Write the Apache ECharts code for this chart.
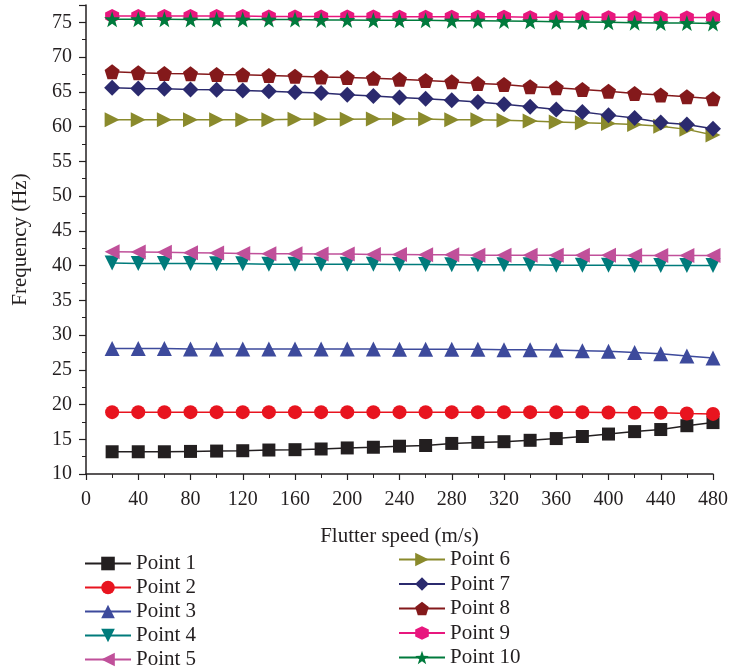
<!DOCTYPE html>
<html>
<head>
<meta charset="utf-8">
<script src="https://cdn.jsdelivr.net/npm/echarts@6/dist/echarts.min.js"></script>
<style>
  html, body { margin: 0; padding: 0; background: #fff; }
  #chart { width: 731px; height: 671px; }
</style>
</head>
<body>
<div id="chart"></div>
<script>
// flutter speed (m/s)
var speeds = [20, 40, 60, 80, 100, 120, 140, 160, 180, 200, 220, 240,
  260, 280, 300, 320, 340, 360, 380, 400, 420, 440, 460, 480];

var names = ['Point 1', 'Point 2', 'Point 3', 'Point 4', 'Point 5',
  'Point 6', 'Point 7', 'Point 8', 'Point 9', 'Point 10'];

// frequency (Hz) per point
var p1 = [13.2, 13.2, 13.2, 13.25, 13.3, 13.35, 13.45, 13.5, 13.6, 13.75, 13.85, 14.0,
  14.1, 14.4, 14.55, 14.65, 14.85, 15.1, 15.4, 15.75, 16.1, 16.4, 16.95, 17.4];
var p2 = [18.9, 18.9, 18.9, 18.9, 18.9, 18.9, 18.9, 18.9, 18.9, 18.9, 18.9, 18.9,
  18.9, 18.9, 18.9, 18.9, 18.9, 18.9, 18.9, 18.85, 18.8, 18.8, 18.7, 18.65];
var p3 = [28.05, 28.05, 28.05, 28.0, 28.0, 28.0, 28.0, 28.0, 28.0, 28.0, 28.0, 27.95,
  27.95, 27.95, 27.95, 27.9, 27.9, 27.85, 27.75, 27.65, 27.5, 27.3, 27.0, 26.7];
var p4 = [40.35, 40.3, 40.3, 40.3, 40.25, 40.25, 40.2, 40.2, 40.2, 40.2, 40.2, 40.15,
  40.15, 40.1, 40.1, 40.1, 40.1, 40.05, 40.05, 40.05, 40.0, 40.0, 40.0, 40.0];
var p5 = [42.0, 41.95, 41.9, 41.85, 41.8, 41.75, 41.7, 41.7, 41.65, 41.65, 41.6, 41.6,
  41.55, 41.55, 41.5, 41.5, 41.5, 41.5, 41.5, 41.5, 41.45, 41.45, 41.45, 41.45];
var p6 = [61.0, 61.0, 61.0, 61.0, 61.0, 61.0, 61.0, 61.05, 61.05, 61.05, 61.1, 61.1,
  61.1, 61.0, 61.0, 60.9, 60.8, 60.65, 60.55, 60.45, 60.3, 60.05, 59.6, 58.8];
var p7 = [65.6, 65.5, 65.45, 65.35, 65.3, 65.2, 65.1, 64.95, 64.85, 64.6, 64.4, 64.2,
  64.0, 63.8, 63.55, 63.2, 62.85, 62.45, 62.1, 61.65, 61.25, 60.6, 60.3, 59.7];
var p8 = [67.9, 67.75, 67.65, 67.6, 67.5, 67.45, 67.35, 67.25, 67.15, 67.05, 66.95, 66.8,
  66.65, 66.45, 66.2, 66.05, 65.75, 65.6, 65.35, 65.1, 64.75, 64.55, 64.3, 64.0];
var p9 = [75.9, 75.9, 75.9, 75.9, 75.9, 75.9, 75.85, 75.85, 75.85, 75.85, 75.85, 75.8,
  75.8, 75.8, 75.8, 75.8, 75.75, 75.75, 75.75, 75.75, 75.75, 75.7, 75.7, 75.7];
var p10 = [75.45, 75.45, 75.45, 75.4, 75.4, 75.4, 75.4, 75.4, 75.35, 75.35, 75.3, 75.3,
  75.3, 75.25, 75.25, 75.2, 75.15, 75.1, 75.05, 75.0, 74.95, 74.9, 74.9, 74.85];

var values = [p1, p2, p3, p4, p5, p6, p7, p8, p9, p10];
var xTicks = [0, 40, 80, 120, 160, 200, 240, 280, 320, 360, 400, 440, 480];

var colors = ['#231f20', '#e8141f', '#3d4a9c', '#007b7b', '#c0509a',
  '#8a8a2c', '#2b2a6e', '#84191b', '#e8177e', '#007a3c'];

var pentagon = 'path://M0,-10 L9.51,-3.09 L5.88,8.09 L-5.88,8.09 L-9.51,-3.09 Z';
var hexagon = 'path://M0,-10 L8.66,-5 L8.66,5 L0,10 L-8.66,5 L-8.66,-5 Z';
var star = 'path://M0,-10 L2.35,-3.24 L9.51,-3.09 L3.8,1.24 L5.88,8.09 L0,4 L-5.88,8.09 L-3.8,1.24 L-9.51,-3.09 L-2.35,-3.24 Z';
var symbols = ['rect', 'circle', 'triangle', 'triangle', 'triangle',
  'triangle', 'diamond', pentagon, hexagon, star];
var rotates = [0, 0, 0, 180, 90, -90, 0, 0, 0, 0];
var sizes = [13, 14, 15, 15, 15, 15, 16, 15, 14, 16];

var font = '"Liberation Serif", "DejaVu Serif", serif';
var ink = '#231f20';

var chart = echarts.init(document.getElementById('chart'));

var series = names.map(function (n, i) {
  return {
    name: n,
    type: 'line',
    data: speeds.map(function (s, j) { return [s, values[i][j]]; }),
    symbol: symbols[i],
    symbolSize: sizes[i],
    symbolRotate: rotates[i],
    showAllSymbol: true,
    color: colors[i],
    lineStyle: { width: 1.5, color: colors[i] },
    itemStyle: { color: colors[i] },
    z: 2 + i
  };
});

var legendText = { fontFamily: font, fontSize: 21, color: ink };

chart.setOption({
  animation: false,
  grid: { left: 86, right: 15, top: 5, bottom: 197 },
  legend: [{
    data: names.slice(0, 5),
    orient: 'vertical',
    left: 84, top: 553, padding: 0, height: 118,
    itemWidth: 46, itemHeight: 17, itemGap: 3,
    textStyle: legendText
  }, {
    data: names.slice(5),
    orient: 'vertical',
    left: 398, top: 549, padding: 0, height: 122,
    itemWidth: 46, itemHeight: 17, itemGap: 3.5,
    textStyle: legendText
  }],
  xAxis: {
    type: 'value',
    min: 0, max: 480, interval: 40,
    name: 'Flutter speed (m/s)',
    nameLocation: 'middle', nameGap: 52,
    nameTextStyle: { fontFamily: font, fontSize: 21, color: ink },
    axisLine: { lineStyle: { color: ink, width: 1.5 } },
    axisTick: { length: 6, lineStyle: { color: ink, width: 1.2 } },
    minorTick: { show: true, splitNumber: 2, length: 4, lineStyle: { color: ink, width: 1 } },
    axisLabel: {
      fontFamily: font, fontSize: 20, color: ink, margin: 16,
      formatter: function (v) { return xTicks.indexOf(v) >= 0 ? String(v) : ''; }
    },
    splitLine: { show: false }
  },
  yAxis: {
    type: 'value',
    min: 10, max: 77.5, interval: 5,
    name: 'Frequency (Hz)',
    nameLocation: 'middle', nameGap: 55,
    nameTextStyle: { fontFamily: font, fontSize: 21, color: ink },
    axisLine: { show: true, lineStyle: { color: ink, width: 1.5 } },
    axisTick: { show: true, length: 7, lineStyle: { color: ink, width: 1.2 } },
    minorTick: { show: true, splitNumber: 2, length: 4, lineStyle: { color: ink, width: 1 } },
    axisLabel: {
      fontFamily: font, fontSize: 20, color: ink, margin: 14,
      formatter: function (v) { return v % 5 === 0 ? String(v) : ''; }
    },
    splitLine: { show: false }
  },
  series: series
});
</script>
</body>
</html>
